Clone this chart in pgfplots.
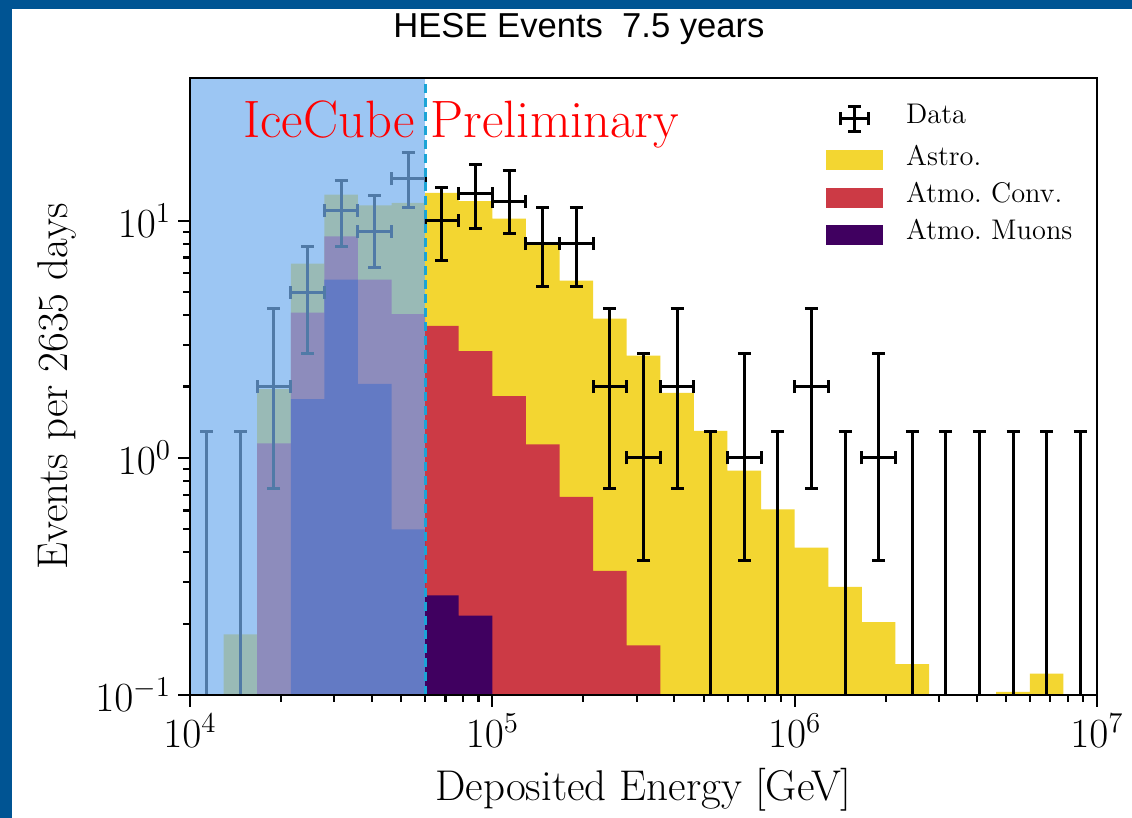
\documentclass[border=0pt]{standalone}
\usepackage{pgfplots}
\pgfplotsset{compat=1.18}
\usepackage{pgfplotstable}
\usepackage{fontspec}
\newfontfamily\titlefont{Liberation Sans}
\definecolor{framecol}{RGB}{0,84,147}
\definecolor{astro}{RGB}{243,214,49}
\definecolor{conv}{RGB}{204,58,69}
\definecolor{muon}{RGB}{64,0,96}
\definecolor{shadecol}{RGB}{115,175,239}
\definecolor{cut}{RGB}{27,164,214}

% histogram stacks: lower bin edge, top of muon, top of muon+conv, top of total
\pgfplotstableread{
xlow mu conv tot
10000 0.001 0.001 0.001
12915 0.001 0.001 0.18
16681 0.001 1.15 1.95
21544 1.77 4.1 6.6
27826 5.65 8.6 12.9
35938 2.05 5.65 11.6
46416 0.50 4.04 11.9
59948 0.263 3.6 13.1
77426 0.216 2.82 12.1
100000 0.001 1.82 10.2
129155 0.001 1.14 7.94
166810 0.001 0.685 5.59
215443 0.001 0.334 3.87
278256 0.001 0.162 2.70
359381 0.001 0.001 1.88
464159 0.001 0.001 1.30
599484 0.001 0.001 0.884
774264 0.001 0.001 0.607
1000000 0.001 0.001 0.418
1291550 0.001 0.001 0.286
1668101 0.001 0.001 0.203
2154435 0.001 0.001 0.135
2782559 0.001 0.001 0.001
3593814 0.001 0.001 0.001
4641589 0.001 0.001 0.103
5994843 0.001 0.001 0.123
7742637 0.001 0.001 0.001
10000000 0.001 0.001 0.001
}\hist

% observed events: bin centre, count, x errors, y errors (68% intervals)
\pgfplotstableread{
x y xm xp ym yp
18957 2 2276 2587 1.26 2.25
24484 5 2940 3341 2.25 2.81
31623 11 3797 4315 3.19 3.82
40842 9 4904 5574 2.67 3.79
52750 15 6334 7198 3.68 4.32
68129 10 8181 9297 3.22 3.81
87992 13 10566 12008 3.72 4.30
113646 12 13646 15509 3.17 4.29
146780 8 17625 20031 2.70 3.32
189574 8 22763 25871 2.70 3.32
244844 2 29399 33413 1.26 2.25
316228 1 37971 43154 0.63 1.75
408424 2 49041 55736 1.26 2.25
681292 1 81805 92974 0.63 1.75
1136464 2 136464 155088 1.26 2.25
1895735 1 227628 258706 0.63 1.75
}\data

% empty bins: upper limits
\pgfplotstableread{
x y yp
11365 0.001 1.289
14678 0.001 1.289
527499 0.001 1.289
879923 0.001 1.289
1467799 0.001 1.289
2448437 0.001 1.289
3162278 0.001 1.289
4084239 0.001 1.289
5274997 0.001 1.289
6812921 0.001 1.289
8799225 0.001 1.289
}\zeros

\begin{document}
\begin{tikzpicture}
\useasboundingbox (0,0) rectangle (566pt,409pt);
\fill[white] (0,0) rectangle (566pt,409pt);
\fill[framecol] (0,0) rectangle (6pt,409pt);
\fill[framecol] (0,404.5pt) rectangle (566pt,409pt);
\node[anchor=base, font=\titlefont\fontsize{17.3}{20}\selectfont] at (289.5pt,390pt) {HESE Events\ \ 7.5 years};
\begin{axis}[
  at={(95pt,61.5pt)}, anchor=south west,
  scale only axis, width=453.5pt, height=308.5pt,
  xmode=log, ymode=log, log origin y=infty,
  xmin=1e4, xmax=1e7, ymin=0.1, ymax=40,
  axis line style={line width=1.3pt},
  tick style={black, line width=1.1pt},
  major tick length=6pt, minor tick length=3.5pt,
  tick align=outside, xtick pos=bottom, ytick pos=left,
  xtick={1e4,1e5,1e6,1e7}, ytick={0.1,1,10},
  ticklabel style={font=\fontsize{21.5}{25}\selectfont},
  label style={font=\fontsize{21.5}{25}\selectfont},
  xlabel={Deposited Energy [GeV]},
  ylabel={Events per 2635 days},
  xlabel style={at={(axis description cs:0.5,-0.1702)}, anchor=base},
  ylabel style={at={(axis description cs:-0.1466,0.5)}, anchor=center},
  axis on top,
  legend style={at={(0.701,0.957)}, anchor=north west, draw=none, fill=none,
    inner sep=0pt, row sep=8.7pt,
    font=\fontsize{14.2}{17}\selectfont,
    nodes={inner sep=0pt, text height=0.75em, text depth=0.25em},
    /tikz/every odd column/.append style={column sep=11.5pt}},
  legend cell align=left,
  error bars/error bar style={draw=black, line width=1.5pt},
  error bars/error mark=-,
  error bars/error mark options={rotate=90, draw=black, line width=1.5pt, mark size=3.25pt},
]
\addlegendimage{legend image code/.code={
  \path[draw=none, fill=none] (0pt,-5pt) rectangle (28.5pt,5pt);
  \draw[black, line width=1.4pt] (14.25pt,-6.25pt) -- (14.25pt,6.25pt);
  \draw[black, line width=1.4pt] (7.25pt,0pt) -- (21.25pt,0pt);
  \draw[black, line width=1.4pt] (11pt,6.25pt) -- (17.5pt,6.25pt);
  \draw[black, line width=1.4pt] (11pt,-6.25pt) -- (17.5pt,-6.25pt);
  \draw[black, line width=1.4pt] (7.25pt,-3.25pt) -- (7.25pt,3.25pt);
  \draw[black, line width=1.4pt] (21.25pt,-3.25pt) -- (21.25pt,3.25pt);
}}
\addlegendentry{Data}
\addlegendimage{legend image code/.code={\fill[astro, draw=none] (0pt,-5pt) rectangle (28.5pt,5pt);}}
\addlegendentry{Astro.}
\addlegendimage{legend image code/.code={\fill[conv, draw=none] (0pt,-5pt) rectangle (28.5pt,5pt);}}
\addlegendentry{Atmo.\ Conv.}
\addlegendimage{legend image code/.code={\fill[muon, draw=none] (0pt,-5pt) rectangle (28.5pt,5pt);}}
\addlegendentry{Atmo.\ Muons}

\addplot[forget plot, ybar interval, fill=astro, draw=none] table[x=xlow, y=tot] {\hist};
\addplot[forget plot, ybar interval, fill=conv, draw=none] table[x=xlow, y=conv] {\hist};
\addplot[forget plot, ybar interval, fill=muon, draw=none] table[x=xlow, y=mu] {\hist};

\addplot[forget plot, mark=none, draw=none,
  error bars/.cd, x dir=both, x explicit, y dir=both, y explicit]
  table[x=x, y=y, x error plus=xp, x error minus=xm, y error plus=yp, y error minus=ym] {\data};
\addplot[forget plot, mark=none, draw=none,
  error bars/.cd, y dir=plus, y explicit]
  table[x=x, y=y, y error plus=yp] {\zeros};

\fill[shadecol, opacity=0.7] (axis cs:10000,0.1) rectangle (axis cs:59948,40);
\draw[cut, line width=1.5pt, dash pattern=on 4.5pt off 2.5pt] (axis cs:59948,0.1) -- (axis cs:59948,40);
\node[text=red, anchor=base west, font=\fontsize{26.3}{30}\selectfont, inner sep=0pt] at (rel axis cs:0.0584,0.904) {IceCube Preliminary};
\end{axis}
\end{tikzpicture}
\end{document}
